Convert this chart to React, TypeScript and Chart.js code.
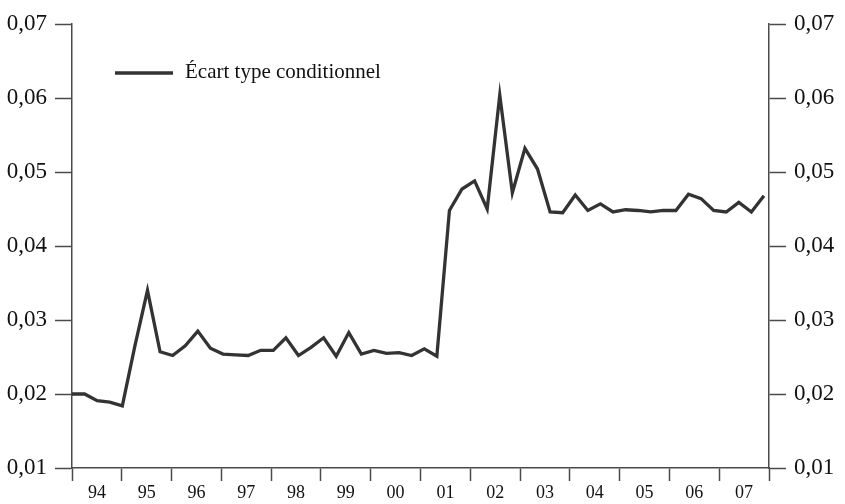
import React, { useEffect, useRef } from "react";
import { Chart, registerables } from "chart.js";

Chart.register(...registerables);

const seriesLabel = "Écart type conditionnel";
const yearLabels = ["94", "95", "96", "97", "98", "99", "00", "01", "02", "03", "04", "05", "06", "07"];
// quarterly values 1994Q1 .. 2007Q4
const values = [
  0.0200, 0.0200, 0.0191, 0.0189, 0.0184, 0.0265, 0.0340, 0.0257,
  0.0252, 0.0265, 0.0285, 0.0262, 0.0254, 0.0253, 0.0252, 0.0259,
  0.0259, 0.0276, 0.0252, 0.0263, 0.0276, 0.0251, 0.0283, 0.0254,
  0.0259, 0.0255, 0.0256, 0.0252, 0.0261, 0.0251, 0.0448, 0.0477,
  0.0488, 0.0450, 0.0604, 0.0472, 0.0532, 0.0504, 0.0446, 0.0445,
  0.0469, 0.0448, 0.0457, 0.0446, 0.0449, 0.0448, 0.0446, 0.0448,
  0.0448, 0.0470, 0.0464, 0.0448, 0.0446, 0.0459, 0.0446, 0.0468,
];
const yMin = 0.01;
const yMax = 0.07;
const yStep = 0.01;

const FONT = '"Liberation Serif", "DejaVu Serif", serif';
const LINE_COLOR = "#333333";
const AXIS_COLOR = "#4a4a4a";
const X_MAX = 55.4;

const legendPlugin = {
  id: "customLegend",
  afterDraw(chart: any) {
    const ctx = chart.ctx;
    const ds = chart.data.datasets[0];
    ctx.save();
    ctx.strokeStyle = ds.borderColor;
    ctx.lineWidth = 3.5;
    ctx.beginPath();
    ctx.moveTo(115, 73);
    ctx.lineTo(173, 73);
    ctx.stroke();
    ctx.fillStyle = "#111";
    ctx.font = `21px ${FONT}`;
    ctx.textBaseline = "alphabetic";
    ctx.textAlign = "left";
    ctx.fillText(ds.label, 185, 78);
    ctx.restore();
  },
};

export default function App() {
  const ref = useRef<HTMLCanvasElement | null>(null);

  useEffect(() => {
    document.body.style.margin = "0";
    if (!ref.current) return;
    const yearWidth = X_MAX / yearLabels.length;
    const chart = new Chart(ref.current, {
      type: "line",
      data: {
        datasets: [
          {
            label: seriesLabel,
            data: values.map((v, i) => ({ x: i, y: v })),
            borderColor: LINE_COLOR,
            borderWidth: 3.3,
            pointRadius: 0,
            tension: 0,
            fill: false,
            yAxisID: "y",
          },
        ],
      },
      options: {
        animation: false,
        responsive: false,
        maintainAspectRatio: false,
        layout: { padding: { top: 24, left: 0, right: 0, bottom: 0 } },
        plugins: { legend: { display: false }, tooltip: { enabled: false } },
        scales: {
          x: {
            type: "linear",
            min: 0,
            max: X_MAX,
            afterBuildTicks: (scale: any) => {
              const t: any[] = [];
              for (let j = 0; j <= yearLabels.length; j++) {
                t.push({ value: j * yearWidth });
                if (j < yearLabels.length) t.push({ value: (j + 0.5) * yearWidth });
              }
              scale.ticks = t;
            },
            afterFit: (scale: any) => {
              scale.height = 36;
            },
            border: { display: true, color: AXIS_COLOR, width: 1.5 },
            grid: {
              drawOnChartArea: false,
              drawTicks: true,
              tickLength: 13,
              tickWidth: 1.5,
              tickColor: (c: any) => (c.index % 2 === 0 ? AXIS_COLOR : "rgba(0,0,0,0)"),
            },
            ticks: {
              autoSkip: false,
              maxRotation: 0,
              padding: 1,
              color: "#111",
              font: { family: FONT, size: 18 },
              callback: (_v: any, i: number) => (i % 2 === 1 ? yearLabels[(i - 1) / 2] : ""),
            },
          },
          y: {
            position: "left",
            min: yMin,
            max: yMax,
            afterFit: (scale: any) => {
              scale.width = 72;
            },
            border: { display: true, color: AXIS_COLOR, width: 1.5 },
            grid: { drawOnChartArea: false, tickLength: 17, tickWidth: 1.5, tickColor: AXIS_COLOR },
            ticks: {
              stepSize: yStep,
              padding: 8,
              color: "#111",
              font: { family: FONT, size: 23 },
              callback: (v: any) => Number(v).toFixed(2).replace(".", ","),
            },
          },
          y1: {
            position: "right",
            min: yMin,
            max: yMax,
            afterFit: (scale: any) => {
              scale.width = 76;
            },
            border: { display: true, color: AXIS_COLOR, width: 1.5 },
            grid: { drawOnChartArea: false, tickLength: 17, tickWidth: 1.5, tickColor: AXIS_COLOR },
            ticks: {
              stepSize: yStep,
              padding: 8,
              color: "#111",
              font: { family: FONT, size: 23 },
              callback: (v: any) => Number(v).toFixed(2).replace(".", ","),
            },
          },
        },
      },
      plugins: [legendPlugin],
    });
    return () => chart.destroy();
  }, []);

  return (
    <div style={{ width: 845, height: 504 }}>
      <canvas ref={ref} width={845} height={504} style={{ display: "block" }} />
    </div>
  );
}
